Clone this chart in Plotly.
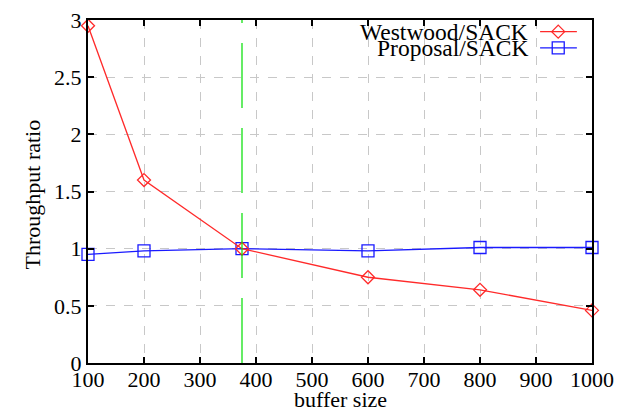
import plotly.graph_objects as go

buffer_sizes = [100, 200, 375, 600, 800, 1000]
westwood_sack = [2.95, 1.60, 1.00, 0.75, 0.64, 0.46]
proposal_sack = [0.95, 0.98, 1.00, 0.98, 1.01, 1.01]
marker_x = 375
series_names = ["Westwood/SACK", "Proposal/SACK"]
x_ticks = [100, 200, 300, 400, 500, 600, 700, 800, 900, 1000]
y_ticks = [0, 0.5, 1, 1.5, 2, 2.5, 3]
y_tick_text = ["0", "0.5", "1", "1.5", "2", "2.5", "3"]
x_title = "buffer size"
y_title = "Throughput ratio"

RED = "#ff2a2a"
BLUE = "#1a1aff"
FONT = "Liberation Serif"

fig = go.Figure()

fig.add_trace(go.Scatter(
    x=buffer_sizes, y=proposal_sack, mode="lines+markers",
    line=dict(color=BLUE, width=1.3),
    marker=dict(symbol="square-open", size=12, color=BLUE, line=dict(width=1.3)),
    showlegend=False, cliponaxis=False))
fig.add_trace(go.Scatter(
    x=buffer_sizes, y=westwood_sack, mode="lines+markers",
    line=dict(color=RED, width=1.3),
    marker=dict(symbol="diamond-open", size=10, color=RED, line=dict(width=1.3)),
    showlegend=False, cliponaxis=False))

# green vertical marker line
fig.add_shape(type="line", xref="x", yref="y", x0=marker_x, x1=marker_x, y0=0, y1=3,
              line=dict(color="#00e000", width=1.2, dash="65px,20px"), layer="above")

# custom legend (text right-aligned, sample on the right)
leg_y = [0.966, 0.919]
leg_colors = [RED, BLUE]
leg_symbols = ["diamond-open", "square-open"]
leg_sizes = [10, 12]
for name, ly, col, sym, sz in zip(series_names, leg_y, leg_colors, leg_symbols, leg_sizes):
    fig.add_annotation(xref="paper", yref="paper", x=0.877, y=ly, text=name,
                       showarrow=False, xanchor="right", yanchor="middle",
                       font=dict(family=FONT, size=23.5, color="black"))
    fig.add_trace(go.Scatter(
        x=[0.897, 0.933, 0.970], y=[ly, ly, ly], xaxis="x2", yaxis="y2",
        mode="lines", line=dict(color=col, width=1.3), showlegend=False, hoverinfo="skip"))
    fig.add_trace(go.Scatter(
        x=[0.933], y=[ly], xaxis="x2", yaxis="y2", mode="markers",
        marker=dict(symbol=sym, size=sz, color=col, line=dict(width=1.3)),
        showlegend=False, hoverinfo="skip"))

# axis titles as annotations for precise placement
fig.add_annotation(xref="paper", yref="paper", x=0.5, y=-0.148, text=x_title,
                   showarrow=False, xanchor="center", yanchor="bottom",
                   font=dict(family=FONT, size=22, color="black"))
fig.add_annotation(xref="paper", yref="paper", x=-0.11, y=0.49, text=y_title,
                   showarrow=False, xanchor="center", yanchor="middle", textangle=-90,
                   font=dict(family=FONT, size=22, color="black"))

axis_common = dict(
    showline=True, linecolor="black", linewidth=2, mirror="ticks",
    ticks="inside", ticklen=6, tickcolor="black", tickwidth=1.5,
    showgrid=True, gridcolor="#c8c8c8", griddash="dash", gridwidth=1,
    zeroline=False, automargin=False,
    tickfont=dict(family=FONT, size=22, color="black"),
)

fig.update_layout(
    width=628, height=414,
    margin=dict(l=88, r=36, t=20, b=51),
    paper_bgcolor="white", plot_bgcolor="white",
    xaxis=dict(range=[100, 1000], tickvals=x_ticks, ticklabelstandoff=-4, **axis_common),
    yaxis=dict(range=[0, 3], tickvals=y_ticks, ticktext=y_tick_text, **axis_common),
    xaxis2=dict(range=[0, 1], overlaying="x", visible=False, fixedrange=True),
    yaxis2=dict(range=[0, 1], overlaying="y", visible=False, fixedrange=True),
)

fig.write_html("out.html")
